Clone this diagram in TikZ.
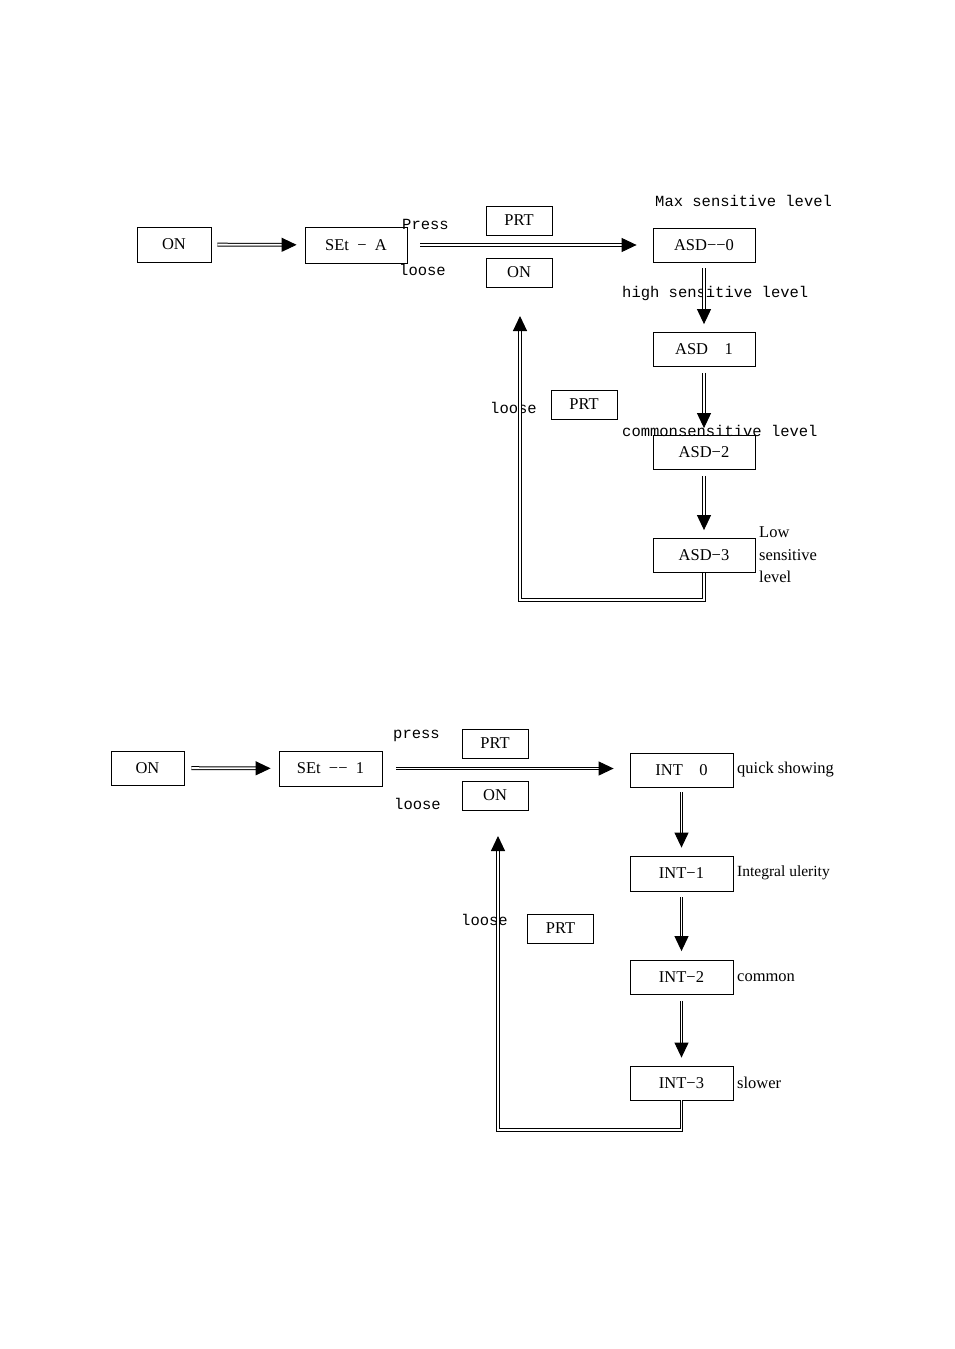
\documentclass[tikz,border=0pt]{standalone}
\usepackage{fontspec}
\setmainfont{Liberation Serif}
\newfontfamily\lblfont{Liberation Mono}
\usetikzlibrary{arrows.meta}
\tikzset{
  box/.style={draw, line width=0.8pt, inner sep=0pt, font=\fontsize{16.5}{18}\selectfont},
  boxA/.style={box, minimum width=102pt, minimum height=34pt},
  boxP/.style={box, minimum width=66pt, minimum height=29pt},
  boxO/.style={box, minimum width=74pt, minimum height=35pt},
  lbl/.style={inner sep=0pt, anchor=west, font=\lblfont\fontsize{15.5}{18}\selectfont},
  side/.style={inner sep=0pt, anchor=west, align=left, font=\fontsize{16.5}{22.5}\selectfont},
  dblarr/.style={double, double distance=1.8pt, line width=1pt,
    -{Triangle[length=15pt,width=14pt]}},
}
\begin{document}
\begin{tikzpicture}[x=1pt,y=-1pt]
\useasboundingbox[fill=white] (0,0) rectangle (954,1349);

% ---------- top diagram ----------
\node[boxO] (on1) at (174,244.5) {ON};
\node[box, minimum width=102pt, minimum height=36pt] (set1) at (356,245) {SEt\ \ −\ \ A};
\node[boxP] (prt1) at (519,220.5) {PRT};
\node[boxP] (onb1) at (519,272.5) {ON};
\node[boxA] (asd0) at (704,245) {ASD−−0};
\node[boxA] (asd1) at (704,349.5) {ASD\ \ \ \ 1};
\node[boxA] (asd2) at (704,452.5) {ASD−2};
\node[boxA] (asd3) at (704,555.5) {ASD−3};
\node[boxP] (prt1b) at (584,404.5) {PRT};

\node[lbl] (press1) at (402,224) {Press};
\node[lbl] (loose1) at (399,270) {loose};
\node[lbl] (max) at (655,201) {Max sensitive level};
\node[lbl] (high) at (622,293) {high sensitive level};
\node[lbl] (loose1b) at (490,408) {loose};
\node[side] (low) at (759,555) {Low\\sensitive\\level};

\draw[dblarr, shorten <=6pt, shorten >=8pt] (on1) -- (set1);
\draw[dblarr, shorten <=13pt, shorten >=16pt] (set1) -- (asd0);
\draw[dblarr, shorten <=6pt, shorten >=8pt] (asd0) -- (asd1);
\draw[dblarr, shorten <=6pt, shorten >=7pt] (asd1) -- (asd2);
\draw[dblarr, shorten <=6pt, shorten >=8pt] (asd2) -- (asd3);
\node[lbl] (common) at (622,431) {commonsensitive level};

\coordinate (c1) at (520,600);
\coordinate (r1) at (520,316);
\draw[dblarr] (asd3.south) |- (c1) -- (r1);

% ---------- bottom diagram ----------
\node[box, minimum width=73pt, minimum height=34pt] (on2) at (147.5,768) {ON};
\node[box, minimum width=103pt, minimum height=35pt] (set2) at (330.5,768.5) {SEt\ \ −−\ \ 1};
\node[boxP] (prt2) at (495,743.5) {PRT};
\node[boxP] (onb2) at (495,795.5) {ON};
\node[box, minimum width=103pt, minimum height=34pt] (int0) at (681.5,770) {INT\ \ \ \ 0};
\node[box, minimum width=103pt, minimum height=35pt] (int1) at (681.5,873.5) {INT−1};
\node[box, minimum width=103pt, minimum height=34pt] (int2) at (681.5,977.5) {INT−2};
\node[box, minimum width=103pt, minimum height=34pt] (int3) at (681.5,1083) {INT−3};
\node[boxP] (prt2b) at (560.5,928.5) {PRT};

\node[lbl] (press2) at (393,736) {press};
\node[lbl] (loose2) at (394,804) {loose};
\node[lbl] (loose2b) at (461,920) {loose};
\node[side] (quick) at (737,770) {quick showing};
\node[side, font=\fontsize{15.5}{18}\selectfont] (integral) at (737,873) {Integral ulerity};
\node[side] (commonb) at (737,978) {common};
\node[side] (slower) at (737,1083) {slower};

\draw[dblarr, shorten <=7pt, shorten >=8pt] (on2) -- (set2);
\draw[dblarr, shorten <=14pt, shorten >=16pt] (set2.east) -- (set2.east -| int0.west);
\draw[dblarr, shorten <=5pt, shorten >=8pt] (int0) -- (int1);
\draw[dblarr, shorten <=6pt, shorten >=9pt] (int1) -- (int2);
\draw[dblarr, shorten <=6pt, shorten >=8pt] (int2) -- (int3);

\coordinate (c2) at (498,1130);
\coordinate (r2) at (498,836);
\draw[dblarr] (int3.south) |- (c2) -- (r2);
\end{tikzpicture}
\end{document}
